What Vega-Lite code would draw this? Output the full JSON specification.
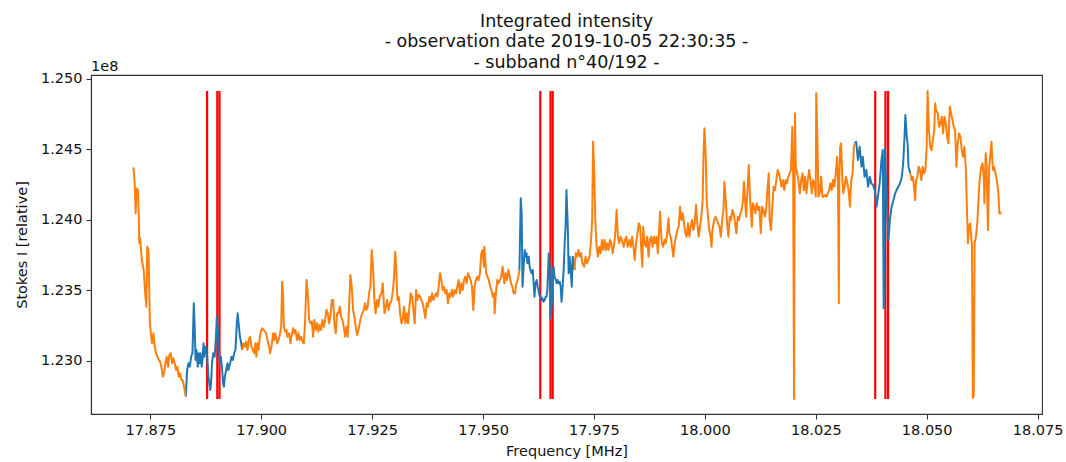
{
"$schema": "https://vega.github.io/schema/vega-lite/v6.json",
"width": 951, "height": 339,
"autosize": {"type": "none"},
"padding": {"left": 91, "top": 75, "right": 24, "bottom": 48},
"background": "white",
"config": {
  "font": "DejaVu Sans",
  "view": {"stroke": "#333", "strokeWidth": 1.1},
  "axis": {"domainColor": "#333", "tickColor": "#333", "labelColor": "#111", "titleColor": "#111", "labelFontSize": 14.5, "titleFontSize": 14.5, "titleFontWeight": "normal", "tickSize": 5, "labelPadding": 4, "grid": false, "domainWidth": 1.1, "tickWidth": 1.1, "labelFont": "DejaVu Sans", "titleFont": "DejaVu Sans"},
  "axisX": {"titlePadding": 8, "labelFlush": false},
  "axisY": {"titlePadding": 11}
},
"title": {"text": ["Integrated intensity", "- observation date 2019-10-05 22:30:35 -", "- subband n°40/192 -"], "fontSize": 17.5, "fontWeight": "normal", "lineHeight": 20.5, "anchor": "middle", "frame": "group", "offset": -12, "color": "#111", "font": "DejaVu Sans"},
"datasets": {
 "rfi": [
  {"f": 17.8878, "lo": 1.22731, "hi": 1.24915},
  {"f": 17.8901, "lo": 1.22731, "hi": 1.24915},
  {"f": 17.8906, "lo": 1.22731, "hi": 1.24915},
  {"f": 17.9629, "lo": 1.22731, "hi": 1.24915},
  {"f": 17.9652, "lo": 1.22731, "hi": 1.24915},
  {"f": 17.9657, "lo": 1.22731, "hi": 1.24915},
  {"f": 18.0384, "lo": 1.22731, "hi": 1.24915},
  {"f": 18.0407, "lo": 1.22731, "hi": 1.24915},
  {"f": 18.0413, "lo": 1.22731, "hi": 1.24915}
 ],
 "flagged": [
  {"f":17.8830,"I":1.22747,"s":"b1"},{"f":17.8833,"I":1.22936,"s":"b1"},{"f":17.8836,"I":1.22984,"s":"b1"},{"f":17.8839,"I":1.2296,"s":"b1"},{"f":17.8842,"I":1.2303,"s":"b1"},{"f":17.8845,"I":1.23055,"s":"b1"},{"f":17.8848,"I":1.23409,"s":"b1"},{"f":17.8850,"I":1.23243,"s":"b1"},{"f":17.8852,"I":1.23007,"s":"b1"},{"f":17.8854,"I":1.23078,"s":"b1"},{"f":17.8857,"I":1.2296,"s":"b1"},{"f":17.8859,"I":1.23055,"s":"b1"},{"f":17.8861,"I":1.22984,"s":"b1"},{"f":17.8863,"I":1.23055,"s":"b1"},{"f":17.8866,"I":1.2296,"s":"b1"},{"f":17.8868,"I":1.2303,"s":"b1"},{"f":17.8870,"I":1.23125,"s":"b1"},{"f":17.8872,"I":1.2303,"s":"b1"},{"f":17.8875,"I":1.23101,"s":"b1"},{"f":17.8877,"I":1.23078,"s":"b1"},{"f":17.8879,"I":1.22984,"s":"b1"},{"f":17.8881,"I":1.22889,"s":"b1"},{"f":17.8885,"I":1.22794,"s":"b1"},{"f":17.8887,"I":1.22842,"s":"b1"},{"f":17.8889,"I":1.22984,"s":"b1"},{"f":17.8892,"I":1.23055,"s":"b1"},{"f":17.8895,"I":1.2303,"s":"b1"},{"f":17.8898,"I":1.23172,"s":"b1"},{"f":17.8900,"I":1.23314,"s":"b1"},{"f":17.8903,"I":1.23172,"s":"b1"},{"f":17.8905,"I":1.23055,"s":"b1"},{"f":17.8907,"I":1.22984,"s":"b1"},{"f":17.8909,"I":1.2303,"s":"b1"},{"f":17.8912,"I":1.22936,"s":"b1"},{"f":17.8914,"I":1.22842,"s":"b1"},{"f":17.8916,"I":1.22818,"s":"b1"},{"f":17.8918,"I":1.22889,"s":"b1"},{"f":17.8921,"I":1.22936,"s":"b1"},{"f":17.8924,"I":1.22984,"s":"b1"},{"f":17.8926,"I":1.22936,"s":"b1"},{"f":17.8930,"I":1.22984,"s":"b1"},{"f":17.8933,"I":1.2303,"s":"b1"},{"f":17.8936,"I":1.23007,"s":"b1"},{"f":17.8939,"I":1.23055,"s":"b1"},{"f":17.8942,"I":1.23078,"s":"b1"},{"f":17.8945,"I":1.23267,"s":"b1"},{"f":17.8947,"I":1.23338,"s":"b1"},{"f":17.8949,"I":1.23267,"s":"b1"},{"f":17.8952,"I":1.23172,"s":"b1"},{"f":17.8955,"I":1.23125,"s":"b1"},{"f":17.8957,"I":1.23078,"s":"b1"},
  {"f":17.9582,"I":1.23645,"s":"b2"},{"f":17.9585,"I":1.24154,"s":"b2"},{"f":17.9587,"I":1.24047,"s":"b2"},{"f":17.9589,"I":1.23527,"s":"b2"},{"f":17.9591,"I":1.23645,"s":"b2"},{"f":17.9594,"I":1.23787,"s":"b2"},{"f":17.9596,"I":1.2374,"s":"b2"},{"f":17.9598,"I":1.23764,"s":"b2"},{"f":17.9600,"I":1.23693,"s":"b2"},{"f":17.9603,"I":1.2374,"s":"b2"},{"f":17.9605,"I":1.23669,"s":"b2"},{"f":17.9607,"I":1.23645,"s":"b2"},{"f":17.9609,"I":1.23622,"s":"b2"},{"f":17.9612,"I":1.23645,"s":"b2"},{"f":17.9614,"I":1.23551,"s":"b2"},{"f":17.9616,"I":1.23456,"s":"b2"},{"f":17.9618,"I":1.23551,"s":"b2"},{"f":17.9621,"I":1.23574,"s":"b2"},{"f":17.9623,"I":1.23527,"s":"b2"},{"f":17.9625,"I":1.23503,"s":"b2"},{"f":17.9627,"I":1.23468,"s":"b2"},{"f":17.9630,"I":1.23456,"s":"b2"},{"f":17.9632,"I":1.23432,"s":"b2"},{"f":17.9634,"I":1.23445,"s":"b2"},{"f":17.9636,"I":1.2342,"s":"b2"},{"f":17.9639,"I":1.23432,"s":"b2"},{"f":17.9641,"I":1.23456,"s":"b2"},{"f":17.9643,"I":1.23456,"s":"b2"},{"f":17.9645,"I":1.23503,"s":"b2"},{"f":17.9648,"I":1.23764,"s":"b2"},{"f":17.9650,"I":1.23693,"s":"b2"},{"f":17.9652,"I":1.23303,"s":"b2"},{"f":17.9655,"I":1.23409,"s":"b2"},{"f":17.9657,"I":1.23645,"s":"b2"},{"f":17.9659,"I":1.23669,"s":"b2"},{"f":17.9661,"I":1.23598,"s":"b2"},{"f":17.9664,"I":1.23574,"s":"b2"},{"f":17.9666,"I":1.23551,"s":"b2"},{"f":17.9668,"I":1.23574,"s":"b2"},{"f":17.9670,"I":1.23551,"s":"b2"},{"f":17.9673,"I":1.23562,"s":"b2"},{"f":17.9675,"I":1.23527,"s":"b2"},{"f":17.9677,"I":1.2342,"s":"b2"},{"f":17.9679,"I":1.23503,"s":"b2"},{"f":17.9682,"I":1.23669,"s":"b2"},{"f":17.9684,"I":1.23835,"s":"b2"},{"f":17.9686,"I":1.23952,"s":"b2"},{"f":17.9688,"I":1.24212,"s":"b2"},{"f":17.9691,"I":1.23952,"s":"b2"},{"f":17.9693,"I":1.23622,"s":"b2"},{"f":17.9695,"I":1.2374,"s":"b2"},{"f":17.9697,"I":1.23669,"s":"b2"},{"f":17.9700,"I":1.23527,"s":"b2"},{"f":17.9702,"I":1.2374,"s":"b2"},{"f":17.9704,"I":1.23716,"s":"b2"},{"f":17.9706,"I":1.23645,"s":"b2"},
  {"f":18.0338,"I":1.24543,"s":"b3"},{"f":18.0341,"I":1.24555,"s":"b3"},{"f":18.0345,"I":1.24425,"s":"b3"},{"f":18.0349,"I":1.24519,"s":"b3"},{"f":18.0353,"I":1.24378,"s":"b3"},{"f":18.0356,"I":1.24448,"s":"b3"},{"f":18.0360,"I":1.24307,"s":"b3"},{"f":18.0364,"I":1.24354,"s":"b3"},{"f":18.0368,"I":1.24236,"s":"b3"},{"f":18.0372,"I":1.24307,"s":"b3"},{"f":18.0375,"I":1.2426,"s":"b3"},{"f":18.0379,"I":1.24248,"s":"b3"},{"f":18.0383,"I":1.24212,"s":"b3"},{"f":18.0387,"I":1.24094,"s":"b3"},{"f":18.0391,"I":1.24189,"s":"b3"},{"f":18.0394,"I":1.2426,"s":"b3"},{"f":18.0398,"I":1.24425,"s":"b3"},{"f":18.0401,"I":1.24496,"s":"b3"},{"f":18.0403,"I":1.23374,"s":"b3"},{"f":18.0406,"I":1.24508,"s":"b3"},{"f":18.0408,"I":1.24307,"s":"b3"},{"f":18.0411,"I":1.24047,"s":"b3"},{"f":18.0414,"I":1.23858,"s":"b3"},{"f":18.0417,"I":1.2400,"s":"b3"},{"f":18.0421,"I":1.24094,"s":"b3"},{"f":18.0425,"I":1.24141,"s":"b3"},{"f":18.0429,"I":1.24189,"s":"b3"},{"f":18.0432,"I":1.24212,"s":"b3"},{"f":18.0436,"I":1.24236,"s":"b3"},{"f":18.0440,"I":1.2426,"s":"b3"},{"f":18.0444,"I":1.24307,"s":"b3"},{"f":18.0447,"I":1.24402,"s":"b3"},{"f":18.0450,"I":1.2459,"s":"b3"},{"f":18.0452,"I":1.24744,"s":"b3"},{"f":18.0455,"I":1.2459,"s":"b3"},{"f":18.0457,"I":1.24543,"s":"b3"},{"f":18.0459,"I":1.24378,"s":"b3"},{"f":18.0463,"I":1.24331,"s":"b3"}
 ],
 "kept": [
  {"f":17.8712,"I":1.24373,"s":"o1"},{"f":17.8715,"I":1.24248,"s":"o1"},{"f":17.8717,"I":1.24047,"s":"o1"},{"f":17.8719,"I":1.24224,"s":"o1"},{"f":17.8722,"I":1.24212,"s":"o1"},{"f":17.8724,"I":1.24023,"s":"o1"},{"f":17.8725,"I":1.23835,"s":"o1"},{"f":17.8727,"I":1.2387,"s":"o1"},{"f":17.8729,"I":1.23787,"s":"o1"},{"f":17.8731,"I":1.23716,"s":"o1"},{"f":17.8735,"I":1.23645,"s":"o1"},{"f":17.8739,"I":1.23456,"s":"o1"},{"f":17.8741,"I":1.23385,"s":"o1"},{"f":17.8743,"I":1.2381,"s":"o1"},{"f":17.8746,"I":1.23787,"s":"o1"},{"f":17.8748,"I":1.23432,"s":"o1"},{"f":17.8749,"I":1.23267,"s":"o1"},{"f":17.8752,"I":1.23172,"s":"o1"},{"f":17.8754,"I":1.23125,"s":"o1"},{"f":17.8757,"I":1.23196,"s":"o1"},{"f":17.8760,"I":1.23101,"s":"o1"},{"f":17.8763,"I":1.23055,"s":"o1"},{"f":17.8766,"I":1.2303,"s":"o1"},{"f":17.8769,"I":1.23007,"s":"o1"},{"f":17.8772,"I":1.22995,"s":"o1"},{"f":17.8775,"I":1.2296,"s":"o1"},{"f":17.8778,"I":1.22889,"s":"o1"},{"f":17.8781,"I":1.22913,"s":"o1"},{"f":17.8784,"I":1.22984,"s":"o1"},{"f":17.8787,"I":1.2303,"s":"o1"},{"f":17.8790,"I":1.2296,"s":"o1"},{"f":17.8793,"I":1.23043,"s":"o1"},{"f":17.8796,"I":1.23055,"s":"o1"},{"f":17.8799,"I":1.22984,"s":"o1"},{"f":17.8802,"I":1.23019,"s":"o1"},{"f":17.8805,"I":1.22984,"s":"o1"},{"f":17.8808,"I":1.22936,"s":"o1"},{"f":17.8811,"I":1.2296,"s":"o1"},{"f":17.8814,"I":1.22889,"s":"o1"},{"f":17.8817,"I":1.22913,"s":"o1"},{"f":17.8820,"I":1.22865,"s":"o1"},{"f":17.8823,"I":1.22865,"s":"o1"},{"f":17.8826,"I":1.22818,"s":"o1"},{"f":17.8830,"I":1.22747,"s":"o1"},
  {"f":17.8957,"I":1.23078,"s":"o2"},{"f":17.8960,"I":1.23125,"s":"o2"},{"f":17.8963,"I":1.23101,"s":"o2"},{"f":17.8966,"I":1.23137,"s":"o2"},{"f":17.8969,"I":1.23078,"s":"o2"},{"f":17.8972,"I":1.23149,"s":"o2"},{"f":17.8975,"I":1.23172,"s":"o2"},{"f":17.8978,"I":1.23101,"s":"o2"},{"f":17.8981,"I":1.23078,"s":"o2"},{"f":17.8984,"I":1.23055,"s":"o2"},{"f":17.8987,"I":1.23125,"s":"o2"},{"f":17.8989,"I":1.2303,"s":"o2"},{"f":17.8992,"I":1.23125,"s":"o2"},{"f":17.8994,"I":1.23078,"s":"o2"},{"f":17.8996,"I":1.23149,"s":"o2"},{"f":17.8999,"I":1.23208,"s":"o2"},{"f":17.9002,"I":1.23232,"s":"o2"},{"f":17.9005,"I":1.2322,"s":"o2"},{"f":17.9009,"I":1.23208,"s":"o2"},{"f":17.9011,"I":1.23196,"s":"o2"},{"f":17.9014,"I":1.23149,"s":"o2"},{"f":17.9018,"I":1.23101,"s":"o2"},{"f":17.9020,"I":1.23055,"s":"o2"},{"f":17.9023,"I":1.23101,"s":"o2"},{"f":17.9027,"I":1.23196,"s":"o2"},{"f":17.9029,"I":1.23149,"s":"o2"},{"f":17.9032,"I":1.23196,"s":"o2"},{"f":17.9036,"I":1.23125,"s":"o2"},{"f":17.9039,"I":1.23149,"s":"o2"},{"f":17.9041,"I":1.23172,"s":"o2"},{"f":17.9045,"I":1.23243,"s":"o2"},{"f":17.9047,"I":1.23562,"s":"o2"},{"f":17.9049,"I":1.2348,"s":"o2"},{"f":17.9051,"I":1.23243,"s":"o2"},{"f":17.9054,"I":1.23208,"s":"o2"},{"f":17.9057,"I":1.2322,"s":"o2"},{"f":17.9059,"I":1.23172,"s":"o2"},{"f":17.9063,"I":1.23196,"s":"o2"},{"f":17.9066,"I":1.23125,"s":"o2"},{"f":17.9068,"I":1.23172,"s":"o2"},{"f":17.9072,"I":1.23232,"s":"o2"},{"f":17.9075,"I":1.23196,"s":"o2"},{"f":17.9077,"I":1.2322,"s":"o2"},{"f":17.9081,"I":1.23149,"s":"o2"},{"f":17.9084,"I":1.23196,"s":"o2"},{"f":17.9087,"I":1.23149,"s":"o2"},{"f":17.9090,"I":1.23172,"s":"o2"},{"f":17.9093,"I":1.23137,"s":"o2"},{"f":17.9096,"I":1.23125,"s":"o2"},{"f":17.9099,"I":1.23291,"s":"o2"},{"f":17.9102,"I":1.23574,"s":"o2"},{"f":17.9105,"I":1.2348,"s":"o2"},{"f":17.9108,"I":1.23291,"s":"o2"},{"f":17.9111,"I":1.23267,"s":"o2"},{"f":17.9114,"I":1.23279,"s":"o2"},{"f":17.9117,"I":1.23172,"s":"o2"},{"f":17.9120,"I":1.23291,"s":"o2"},{"f":17.9123,"I":1.2322,"s":"o2"},{"f":17.9126,"I":1.23267,"s":"o2"},{"f":17.9129,"I":1.23208,"s":"o2"},{"f":17.9132,"I":1.23255,"s":"o2"},{"f":17.9135,"I":1.2322,"s":"o2"},{"f":17.9138,"I":1.23291,"s":"o2"},{"f":17.9141,"I":1.23243,"s":"o2"},{"f":17.9144,"I":1.23291,"s":"o2"},{"f":17.9147,"I":1.23362,"s":"o2"},{"f":17.9150,"I":1.23338,"s":"o2"},{"f":17.9153,"I":1.23267,"s":"o2"},{"f":17.9156,"I":1.23314,"s":"o2"},{"f":17.9159,"I":1.23432,"s":"o2"},{"f":17.9162,"I":1.23432,"s":"o2"},{"f":17.9165,"I":1.23267,"s":"o2"},{"f":17.9168,"I":1.23196,"s":"o2"},{"f":17.9171,"I":1.23338,"s":"o2"},{"f":17.9174,"I":1.23338,"s":"o2"},{"f":17.9177,"I":1.23385,"s":"o2"},{"f":17.9180,"I":1.23314,"s":"o2"},{"f":17.9183,"I":1.23291,"s":"o2"},{"f":17.9186,"I":1.23243,"s":"o2"},{"f":17.9189,"I":1.23172,"s":"o2"},{"f":17.9192,"I":1.23243,"s":"o2"},{"f":17.9195,"I":1.23172,"s":"o2"},{"f":17.9198,"I":1.23385,"s":"o2"},{"f":17.9201,"I":1.2361,"s":"o2"},{"f":17.9204,"I":1.23527,"s":"o2"},{"f":17.9207,"I":1.23362,"s":"o2"},{"f":17.9210,"I":1.23314,"s":"o2"},{"f":17.9213,"I":1.23243,"s":"o2"},{"f":17.9216,"I":1.23184,"s":"o2"},{"f":17.9219,"I":1.2322,"s":"o2"},{"f":17.9222,"I":1.23267,"s":"o2"},{"f":17.9225,"I":1.23314,"s":"o2"},{"f":17.9228,"I":1.23338,"s":"o2"},{"f":17.9231,"I":1.23362,"s":"o2"},{"f":17.9234,"I":1.23409,"s":"o2"},{"f":17.9237,"I":1.23362,"s":"o2"},{"f":17.9240,"I":1.23385,"s":"o2"},{"f":17.9243,"I":1.2348,"s":"o2"},{"f":17.9246,"I":1.23527,"s":"o2"},{"f":17.9249,"I":1.23787,"s":"o2"},{"f":17.9252,"I":1.23669,"s":"o2"},{"f":17.9255,"I":1.23432,"s":"o2"},{"f":17.9258,"I":1.23338,"s":"o2"},{"f":17.9261,"I":1.23432,"s":"o2"},{"f":17.9264,"I":1.23385,"s":"o2"},{"f":17.9267,"I":1.23456,"s":"o2"},{"f":17.9271,"I":1.2348,"s":"o2"},{"f":17.9274,"I":1.23551,"s":"o2"},{"f":17.9276,"I":1.23432,"s":"o2"},{"f":17.9278,"I":1.23338,"s":"o2"},{"f":17.9281,"I":1.23385,"s":"o2"},{"f":17.9284,"I":1.23432,"s":"o2"},{"f":17.9287,"I":1.23362,"s":"o2"},{"f":17.9290,"I":1.23409,"s":"o2"},{"f":17.9293,"I":1.2342,"s":"o2"},{"f":17.9296,"I":1.2348,"s":"o2"},{"f":17.9299,"I":1.23574,"s":"o2"},{"f":17.9302,"I":1.23775,"s":"o2"},{"f":17.9304,"I":1.23669,"s":"o2"},{"f":17.9307,"I":1.23432,"s":"o2"},{"f":17.9310,"I":1.23456,"s":"o2"},{"f":17.9313,"I":1.23338,"s":"o2"},{"f":17.9316,"I":1.23267,"s":"o2"},{"f":17.9319,"I":1.23291,"s":"o2"},{"f":17.9322,"I":1.23385,"s":"o2"},{"f":17.9325,"I":1.23267,"s":"o2"},{"f":17.9328,"I":1.23338,"s":"o2"},{"f":17.9331,"I":1.23267,"s":"o2"},{"f":17.9334,"I":1.23385,"s":"o2"},{"f":17.9337,"I":1.2348,"s":"o2"},{"f":17.9340,"I":1.23456,"s":"o2"},{"f":17.9343,"I":1.23362,"s":"o2"},{"f":17.9346,"I":1.23267,"s":"o2"},{"f":17.9349,"I":1.23503,"s":"o2"},{"f":17.9352,"I":1.23432,"s":"o2"},{"f":17.9355,"I":1.23468,"s":"o2"},{"f":17.9358,"I":1.23456,"s":"o2"},{"f":17.9361,"I":1.23432,"s":"o2"},{"f":17.9364,"I":1.23409,"s":"o2"},{"f":17.9367,"I":1.23362,"s":"o2"},{"f":17.9370,"I":1.23303,"s":"o2"},{"f":17.9373,"I":1.23409,"s":"o2"},{"f":17.9376,"I":1.23385,"s":"o2"},{"f":17.9379,"I":1.23456,"s":"o2"},{"f":17.9382,"I":1.2342,"s":"o2"},{"f":17.9385,"I":1.2348,"s":"o2"},{"f":17.9388,"I":1.23432,"s":"o2"},{"f":17.9391,"I":1.23456,"s":"o2"},{"f":17.9394,"I":1.2348,"s":"o2"},{"f":17.9397,"I":1.23456,"s":"o2"},{"f":17.9400,"I":1.23527,"s":"o2"},{"f":17.9403,"I":1.23622,"s":"o2"},{"f":17.9406,"I":1.23574,"s":"o2"},{"f":17.9409,"I":1.23503,"s":"o2"},{"f":17.9412,"I":1.23527,"s":"o2"},{"f":17.9415,"I":1.2348,"s":"o2"},{"f":17.9418,"I":1.23503,"s":"o2"},{"f":17.9421,"I":1.23409,"s":"o2"},{"f":17.9424,"I":1.2348,"s":"o2"},{"f":17.9427,"I":1.23456,"s":"o2"},{"f":17.9430,"I":1.23503,"s":"o2"},{"f":17.9433,"I":1.23456,"s":"o2"},{"f":17.9436,"I":1.23503,"s":"o2"},{"f":17.9439,"I":1.2348,"s":"o2"},{"f":17.9442,"I":1.23527,"s":"o2"},{"f":17.9445,"I":1.23574,"s":"o2"},{"f":17.9448,"I":1.2348,"s":"o2"},{"f":17.9451,"I":1.23551,"s":"o2"},{"f":17.9454,"I":1.23503,"s":"o2"},{"f":17.9457,"I":1.23574,"s":"o2"},{"f":17.9460,"I":1.23598,"s":"o2"},{"f":17.9463,"I":1.23551,"s":"o2"},{"f":17.9466,"I":1.23622,"s":"o2"},{"f":17.9469,"I":1.23598,"s":"o2"},{"f":17.9472,"I":1.23574,"s":"o2"},{"f":17.9475,"I":1.23527,"s":"o2"},{"f":17.9478,"I":1.23362,"s":"o2"},{"f":17.9481,"I":1.23527,"s":"o2"},{"f":17.9484,"I":1.23574,"s":"o2"},{"f":17.9487,"I":1.23598,"s":"o2"},{"f":17.9490,"I":1.23574,"s":"o2"},{"f":17.9493,"I":1.23622,"s":"o2"},{"f":17.9496,"I":1.23764,"s":"o2"},{"f":17.9499,"I":1.23787,"s":"o2"},{"f":17.9502,"I":1.23669,"s":"o2"},{"f":17.9503,"I":1.2381,"s":"o2"},{"f":17.9507,"I":1.23622,"s":"o2"},{"f":17.9510,"I":1.23598,"s":"o2"},{"f":17.9513,"I":1.23574,"s":"o2"},{"f":17.9516,"I":1.23527,"s":"o2"},{"f":17.9519,"I":1.23503,"s":"o2"},{"f":17.9522,"I":1.23456,"s":"o2"},{"f":17.9525,"I":1.2348,"s":"o2"},{"f":17.9526,"I":1.23338,"s":"o2"},{"f":17.9529,"I":1.2348,"s":"o2"},{"f":17.9532,"I":1.23574,"s":"o2"},{"f":17.9535,"I":1.23551,"s":"o2"},{"f":17.9538,"I":1.23574,"s":"o2"},{"f":17.9541,"I":1.23598,"s":"o2"},{"f":17.9544,"I":1.23669,"s":"o2"},{"f":17.9548,"I":1.23551,"s":"o2"},{"f":17.9551,"I":1.23622,"s":"o2"},{"f":17.9554,"I":1.23574,"s":"o2"},{"f":17.9557,"I":1.23645,"s":"o2"},{"f":17.9560,"I":1.23598,"s":"o2"},{"f":17.9563,"I":1.23551,"s":"o2"},{"f":17.9566,"I":1.23527,"s":"o2"},{"f":17.9569,"I":1.2348,"s":"o2"},{"f":17.9572,"I":1.2348,"s":"o2"},{"f":17.9575,"I":1.23551,"s":"o2"},{"f":17.9578,"I":1.23574,"s":"o2"},{"f":17.9581,"I":1.23622,"s":"o2"},{"f":17.9582,"I":1.23645,"s":"o2"},
  {"f":17.9706,"I":1.23645,"s":"o3"},{"f":17.9709,"I":1.23764,"s":"o3"},{"f":17.9712,"I":1.2374,"s":"o3"},{"f":17.9715,"I":1.23787,"s":"o3"},{"f":17.9718,"I":1.2374,"s":"o3"},{"f":17.9721,"I":1.23764,"s":"o3"},{"f":17.9724,"I":1.23693,"s":"o3"},{"f":17.9728,"I":1.23669,"s":"o3"},{"f":17.9731,"I":1.2374,"s":"o3"},{"f":17.9734,"I":1.23693,"s":"o3"},{"f":17.9737,"I":1.23716,"s":"o3"},{"f":17.9740,"I":1.2374,"s":"o3"},{"f":17.9743,"I":1.23835,"s":"o3"},{"f":17.9746,"I":1.2400,"s":"o3"},{"f":17.9748,"I":1.24555,"s":"o3"},{"f":17.9751,"I":1.24307,"s":"o3"},{"f":17.9753,"I":1.2400,"s":"o3"},{"f":17.9756,"I":1.2381,"s":"o3"},{"f":17.9759,"I":1.2374,"s":"o3"},{"f":17.9762,"I":1.2381,"s":"o3"},{"f":17.9765,"I":1.23764,"s":"o3"},{"f":17.9768,"I":1.23858,"s":"o3"},{"f":17.9771,"I":1.23787,"s":"o3"},{"f":17.9774,"I":1.23858,"s":"o3"},{"f":17.9777,"I":1.23787,"s":"o3"},{"f":17.9780,"I":1.23835,"s":"o3"},{"f":17.9783,"I":1.23787,"s":"o3"},{"f":17.9786,"I":1.23858,"s":"o3"},{"f":17.9789,"I":1.23835,"s":"o3"},{"f":17.9792,"I":1.23764,"s":"o3"},{"f":17.9795,"I":1.2381,"s":"o3"},{"f":17.9798,"I":1.23905,"s":"o3"},{"f":17.9801,"I":1.24071,"s":"o3"},{"f":17.9804,"I":1.23881,"s":"o3"},{"f":17.9807,"I":1.23835,"s":"o3"},{"f":17.9810,"I":1.23881,"s":"o3"},{"f":17.9813,"I":1.23858,"s":"o3"},{"f":17.9817,"I":1.2381,"s":"o3"},{"f":17.9820,"I":1.23858,"s":"o3"},{"f":17.9823,"I":1.23881,"s":"o3"},{"f":17.9826,"I":1.2381,"s":"o3"},{"f":17.9830,"I":1.23858,"s":"o3"},{"f":17.9833,"I":1.2381,"s":"o3"},{"f":17.9836,"I":1.23881,"s":"o3"},{"f":17.9839,"I":1.2381,"s":"o3"},{"f":17.9842,"I":1.23716,"s":"o3"},{"f":17.9845,"I":1.23835,"s":"o3"},{"f":17.9848,"I":1.23905,"s":"o3"},{"f":17.9851,"I":1.23976,"s":"o3"},{"f":17.9854,"I":1.23952,"s":"o3"},{"f":17.9857,"I":1.23764,"s":"o3"},{"f":17.9859,"I":1.23669,"s":"o3"},{"f":17.9861,"I":1.23952,"s":"o3"},{"f":17.9864,"I":1.23835,"s":"o3"},{"f":17.9867,"I":1.2381,"s":"o3"},{"f":17.9870,"I":1.23881,"s":"o3"},{"f":17.9873,"I":1.2374,"s":"o3"},{"f":17.9876,"I":1.23858,"s":"o3"},{"f":17.9879,"I":1.23881,"s":"o3"},{"f":17.9882,"I":1.2381,"s":"o3"},{"f":17.9885,"I":1.23881,"s":"o3"},{"f":17.9888,"I":1.23835,"s":"o3"},{"f":17.9891,"I":1.23881,"s":"o3"},{"f":17.9894,"I":1.23764,"s":"o3"},{"f":17.9897,"I":1.23929,"s":"o3"},{"f":17.9899,"I":1.24059,"s":"o3"},{"f":17.9901,"I":1.23929,"s":"o3"},{"f":17.9903,"I":1.23835,"s":"o3"},{"f":17.9906,"I":1.2381,"s":"o3"},{"f":17.9909,"I":1.23858,"s":"o3"},{"f":17.9912,"I":1.23835,"s":"o3"},{"f":17.9915,"I":1.23905,"s":"o3"},{"f":17.9918,"I":1.24012,"s":"o3"},{"f":17.9920,"I":1.23905,"s":"o3"},{"f":17.9923,"I":1.23881,"s":"o3"},{"f":17.9926,"I":1.2381,"s":"o3"},{"f":17.9929,"I":1.2374,"s":"o3"},{"f":17.9932,"I":1.23835,"s":"o3"},{"f":17.9935,"I":1.23881,"s":"o3"},{"f":17.9938,"I":1.23929,"s":"o3"},{"f":17.9941,"I":1.23952,"s":"o3"},{"f":17.9944,"I":1.24094,"s":"o3"},{"f":17.9947,"I":1.2400,"s":"o3"},{"f":17.9950,"I":1.24047,"s":"o3"},{"f":17.9953,"I":1.23976,"s":"o3"},{"f":17.9956,"I":1.23905,"s":"o3"},{"f":17.9959,"I":1.23881,"s":"o3"},{"f":17.9962,"I":1.23976,"s":"o3"},{"f":17.9965,"I":1.23881,"s":"o3"},{"f":17.9968,"I":1.23952,"s":"o3"},{"f":17.9971,"I":1.2400,"s":"o3"},{"f":17.9974,"I":1.23929,"s":"o3"},{"f":17.9977,"I":1.23976,"s":"o3"},{"f":17.9980,"I":1.24106,"s":"o3"},{"f":17.9983,"I":1.23976,"s":"o3"},{"f":17.9986,"I":1.23881,"s":"o3"},{"f":17.9989,"I":1.23952,"s":"o3"},{"f":17.9992,"I":1.24023,"s":"o3"},{"f":17.9995,"I":1.24141,"s":"o3"},{"f":17.9997,"I":1.24473,"s":"o3"},{"f":17.9999,"I":1.2465,"s":"o3"},{"f":18.0002,"I":1.24448,"s":"o3"},{"f":18.0004,"I":1.24141,"s":"o3"},{"f":18.0007,"I":1.24023,"s":"o3"},{"f":18.0010,"I":1.23929,"s":"o3"},{"f":18.0013,"I":1.23881,"s":"o3"},{"f":18.0015,"I":1.2381,"s":"o3"},{"f":18.0017,"I":1.23929,"s":"o3"},{"f":18.0021,"I":1.2400,"s":"o3"},{"f":18.0024,"I":1.24023,"s":"o3"},{"f":18.0027,"I":1.2400,"s":"o3"},{"f":18.0030,"I":1.23976,"s":"o3"},{"f":18.0033,"I":1.23952,"s":"o3"},{"f":18.0036,"I":1.23881,"s":"o3"},{"f":18.0039,"I":1.2400,"s":"o3"},{"f":18.0042,"I":1.24071,"s":"o3"},{"f":18.0044,"I":1.24271,"s":"o3"},{"f":18.0047,"I":1.24141,"s":"o3"},{"f":18.0050,"I":1.23976,"s":"o3"},{"f":18.0053,"I":1.23881,"s":"o3"},{"f":18.0056,"I":1.24023,"s":"o3"},{"f":18.0059,"I":1.2400,"s":"o3"},{"f":18.0062,"I":1.24071,"s":"o3"},{"f":18.0065,"I":1.24047,"s":"o3"},{"f":18.0068,"I":1.23976,"s":"o3"},{"f":18.0071,"I":1.23905,"s":"o3"},{"f":18.0074,"I":1.24023,"s":"o3"},{"f":18.0077,"I":1.2400,"s":"o3"},{"f":18.0080,"I":1.24047,"s":"o3"},{"f":18.0083,"I":1.24071,"s":"o3"},{"f":18.0086,"I":1.24141,"s":"o3"},{"f":18.0088,"I":1.24271,"s":"o3"},{"f":18.0090,"I":1.24165,"s":"o3"},{"f":18.0093,"I":1.24023,"s":"o3"},{"f":18.0096,"I":1.24212,"s":"o3"},{"f":18.0099,"I":1.2439,"s":"o3"},{"f":18.0102,"I":1.24141,"s":"o3"},{"f":18.0106,"I":1.23952,"s":"o3"},{"f":18.0108,"I":1.24118,"s":"o3"},{"f":18.0111,"I":1.24094,"s":"o3"},{"f":18.0114,"I":1.24047,"s":"o3"},{"f":18.0117,"I":1.24118,"s":"o3"},{"f":18.0120,"I":1.24071,"s":"o3"},{"f":18.0123,"I":1.24094,"s":"o3"},{"f":18.0126,"I":1.23905,"s":"o3"},{"f":18.0129,"I":1.24094,"s":"o3"},{"f":18.0132,"I":1.24071,"s":"o3"},{"f":18.0135,"I":1.24023,"s":"o3"},{"f":18.0138,"I":1.24071,"s":"o3"},{"f":18.0141,"I":1.24212,"s":"o3"},{"f":18.0144,"I":1.24331,"s":"o3"},{"f":18.0146,"I":1.2400,"s":"o3"},{"f":18.0149,"I":1.23929,"s":"o3"},{"f":18.0152,"I":1.24094,"s":"o3"},{"f":18.0155,"I":1.24236,"s":"o3"},{"f":18.0158,"I":1.24212,"s":"o3"},{"f":18.0161,"I":1.24283,"s":"o3"},{"f":18.0164,"I":1.24354,"s":"o3"},{"f":18.0167,"I":1.24331,"s":"o3"},{"f":18.0170,"I":1.24283,"s":"o3"},{"f":18.0173,"I":1.24236,"s":"o3"},{"f":18.0176,"I":1.24283,"s":"o3"},{"f":18.0179,"I":1.24212,"s":"o3"},{"f":18.0182,"I":1.24283,"s":"o3"},{"f":18.0185,"I":1.2426,"s":"o3"},{"f":18.0188,"I":1.24307,"s":"o3"},{"f":18.0191,"I":1.24331,"s":"o3"},{"f":18.0194,"I":1.24354,"s":"o3"},{"f":18.0197,"I":1.24661,"s":"o3"},{"f":18.0199,"I":1.24331,"s":"o3"},{"f":18.0201,"I":1.22731,"s":"o3"},{"f":18.0203,"I":1.24756,"s":"o3"},{"f":18.0205,"I":1.24378,"s":"o3"},{"f":18.0208,"I":1.24331,"s":"o3"},{"f":18.0211,"I":1.24283,"s":"o3"},{"f":18.0214,"I":1.24189,"s":"o3"},{"f":18.0217,"I":1.24283,"s":"o3"},{"f":18.0220,"I":1.24331,"s":"o3"},{"f":18.0223,"I":1.24212,"s":"o3"},{"f":18.0226,"I":1.24307,"s":"o3"},{"f":18.0229,"I":1.24189,"s":"o3"},{"f":18.0232,"I":1.24283,"s":"o3"},{"f":18.0235,"I":1.24354,"s":"o3"},{"f":18.0238,"I":1.24283,"s":"o3"},{"f":18.0241,"I":1.24189,"s":"o3"},{"f":18.0244,"I":1.24283,"s":"o3"},{"f":18.0247,"I":1.2426,"s":"o3"},{"f":18.0250,"I":1.24165,"s":"o3"},{"f":18.0251,"I":1.24898,"s":"o3"},{"f":18.0254,"I":1.24519,"s":"o3"},{"f":18.0256,"I":1.24165,"s":"o3"},{"f":18.0259,"I":1.24189,"s":"o3"},{"f":18.0262,"I":1.24307,"s":"o3"},{"f":18.0265,"I":1.24165,"s":"o3"},{"f":18.0268,"I":1.24165,"s":"o3"},{"f":18.0271,"I":1.24177,"s":"o3"},{"f":18.0274,"I":1.24165,"s":"o3"},{"f":18.0277,"I":1.24189,"s":"o3"},{"f":18.0280,"I":1.24212,"s":"o3"},{"f":18.0283,"I":1.2426,"s":"o3"},{"f":18.0286,"I":1.24212,"s":"o3"},{"f":18.0289,"I":1.24283,"s":"o3"},{"f":18.0292,"I":1.24236,"s":"o3"},{"f":18.0295,"I":1.24331,"s":"o3"},{"f":18.0298,"I":1.24448,"s":"o3"},{"f":18.0300,"I":1.24283,"s":"o3"},{"f":18.0302,"I":1.23409,"s":"o3"},{"f":18.0303,"I":1.24283,"s":"o3"},{"f":18.0305,"I":1.24519,"s":"o3"},{"f":18.0307,"I":1.24543,"s":"o3"},{"f":18.0310,"I":1.24283,"s":"o3"},{"f":18.0312,"I":1.24189,"s":"o3"},{"f":18.0315,"I":1.24236,"s":"o3"},{"f":18.0318,"I":1.24307,"s":"o3"},{"f":18.0321,"I":1.2426,"s":"o3"},{"f":18.0324,"I":1.24212,"s":"o3"},{"f":18.0327,"I":1.24094,"s":"o3"},{"f":18.0330,"I":1.24283,"s":"o3"},{"f":18.0333,"I":1.24331,"s":"o3"},{"f":18.0336,"I":1.24519,"s":"o3"},{"f":18.0338,"I":1.24543,"s":"o3"},
  {"f":18.0463,"I":1.24331,"s":"o4"},{"f":18.0466,"I":1.24283,"s":"o4"},{"f":18.0469,"I":1.24307,"s":"o4"},{"f":18.0472,"I":1.24212,"s":"o4"},{"f":18.0474,"I":1.24141,"s":"o4"},{"f":18.0476,"I":1.24283,"s":"o4"},{"f":18.0479,"I":1.24307,"s":"o4"},{"f":18.0482,"I":1.24378,"s":"o4"},{"f":18.0485,"I":1.24354,"s":"o4"},{"f":18.0488,"I":1.24283,"s":"o4"},{"f":18.0491,"I":1.24378,"s":"o4"},{"f":18.0494,"I":1.24331,"s":"o4"},{"f":18.0497,"I":1.24354,"s":"o4"},{"f":18.0500,"I":1.24519,"s":"o4"},{"f":18.0502,"I":1.24915,"s":"o4"},{"f":18.0505,"I":1.24638,"s":"o4"},{"f":18.0508,"I":1.24519,"s":"o4"},{"f":18.0511,"I":1.24496,"s":"o4"},{"f":18.0514,"I":1.24567,"s":"o4"},{"f":18.0517,"I":1.24638,"s":"o4"},{"f":18.0519,"I":1.24827,"s":"o4"},{"f":18.0521,"I":1.2478,"s":"o4"},{"f":18.0525,"I":1.24756,"s":"o4"},{"f":18.0528,"I":1.24661,"s":"o4"},{"f":18.0531,"I":1.24685,"s":"o4"},{"f":18.0534,"I":1.24732,"s":"o4"},{"f":18.0537,"I":1.24614,"s":"o4"},{"f":18.0540,"I":1.24732,"s":"o4"},{"f":18.0543,"I":1.24685,"s":"o4"},{"f":18.0546,"I":1.2459,"s":"o4"},{"f":18.0549,"I":1.24543,"s":"o4"},{"f":18.0552,"I":1.24803,"s":"o4"},{"f":18.0555,"I":1.24756,"s":"o4"},{"f":18.0558,"I":1.24709,"s":"o4"},{"f":18.0561,"I":1.24661,"s":"o4"},{"f":18.0564,"I":1.24638,"s":"o4"},{"f":18.0567,"I":1.24378,"s":"o4"},{"f":18.0570,"I":1.24543,"s":"o4"},{"f":18.0573,"I":1.24614,"s":"o4"},{"f":18.0576,"I":1.2459,"s":"o4"},{"f":18.0579,"I":1.24496,"s":"o4"},{"f":18.0582,"I":1.24448,"s":"o4"},{"f":18.0585,"I":1.24519,"s":"o4"},{"f":18.0588,"I":1.24378,"s":"o4"},{"f":18.0591,"I":1.24047,"s":"o4"},{"f":18.0593,"I":1.23835,"s":"o4"},{"f":18.0595,"I":1.23952,"s":"o4"},{"f":18.0598,"I":1.23976,"s":"o4"},{"f":18.0602,"I":1.23822,"s":"o4"},{"f":18.0604,"I":1.22738,"s":"o4"},{"f":18.0606,"I":1.22752,"s":"o4"},{"f":18.0608,"I":1.23835,"s":"o4"},{"f":18.0611,"I":1.23881,"s":"o4"},{"f":18.0614,"I":1.23976,"s":"o4"},{"f":18.0617,"I":1.24165,"s":"o4"},{"f":18.0620,"I":1.24307,"s":"o4"},{"f":18.0623,"I":1.24378,"s":"o4"},{"f":18.0626,"I":1.24402,"s":"o4"},{"f":18.0629,"I":1.24283,"s":"o4"},{"f":18.0630,"I":1.24118,"s":"o4"},{"f":18.0633,"I":1.24473,"s":"o4"},{"f":18.0635,"I":1.24402,"s":"o4"},{"f":18.0638,"I":1.23929,"s":"o4"},{"f":18.0641,"I":1.24378,"s":"o4"},{"f":18.0643,"I":1.24448,"s":"o4"},{"f":18.0646,"I":1.24555,"s":"o4"},{"f":18.0649,"I":1.24354,"s":"o4"},{"f":18.0652,"I":1.24378,"s":"o4"},{"f":18.0655,"I":1.24331,"s":"o4"},{"f":18.0658,"I":1.24283,"s":"o4"},{"f":18.0661,"I":1.24212,"s":"o4"},{"f":18.0664,"I":1.24047,"s":"o4"},{"f":18.0669,"I":1.24047,"s":"o4"}
 ],
 "exponent": [{"f": 17.86163, "I": 1.25028, "t": "1e8"}]
},
"layer": [
 {
  "data": {"name": "rfi"},
  "mark": {"type": "rule", "color": "#ff0000", "strokeWidth": 2.2},
  "encoding": {
   "x": {"field": "f", "type": "quantitative", "scale": {"domain": [17.86163, 18.07599], "nice": false, "zero": false}, "axis": {"values": [17.875, 17.9, 17.925, 17.95, 17.975, 18.0, 18.025, 18.05, 18.075], "format": ".3f", "title": "Frequency [MHz]"}},
   "y": {"field": "lo", "type": "quantitative", "scale": {"domain": [1.22624, 1.25028], "nice": false, "zero": false}, "axis": {"values": [1.23, 1.235, 1.24, 1.245, 1.25], "format": ".3f", "title": "Stokes I [relative]"}},
   "y2": {"field": "hi"}
  }
 },
 {
  "data": {"name": "flagged"},
  "mark": {"type": "line", "color": "#1f77b4", "strokeWidth": 2, "strokeJoin": "round", "strokeCap": "butt"},
  "encoding": {
   "x": {"field": "f", "type": "quantitative", "scale": {"domain": [17.86163, 18.07599], "nice": false, "zero": false}, "title": "Frequency [MHz]"},
   "y": {"field": "I", "type": "quantitative", "scale": {"domain": [1.22624, 1.25028], "nice": false, "zero": false}, "title": "Stokes I [relative]"},
   "detail": {"field": "s", "type": "nominal"}
  }
 },
 {
  "data": {"name": "kept"},
  "mark": {"type": "line", "color": "#ff7f0e", "strokeWidth": 2, "strokeJoin": "round", "strokeCap": "butt"},
  "encoding": {
   "x": {"field": "f", "type": "quantitative", "scale": {"domain": [17.86163, 18.07599], "nice": false, "zero": false}, "title": "Frequency [MHz]"},
   "y": {"field": "I", "type": "quantitative", "scale": {"domain": [1.22624, 1.25028], "nice": false, "zero": false}, "title": "Stokes I [relative]"},
   "detail": {"field": "s", "type": "nominal"}
  }
 },
 {
  "data": {"name": "exponent"},
  "mark": {"type": "text", "align": "left", "baseline": "alphabetic", "dy": -4, "fontSize": 14.5, "font": "DejaVu Sans", "color": "#111"},
  "encoding": {
   "x": {"field": "f", "type": "quantitative", "scale": {"domain": [17.86163, 18.07599], "nice": false, "zero": false}, "title": "Frequency [MHz]"},
   "y": {"field": "I", "type": "quantitative", "scale": {"domain": [1.22624, 1.25028], "nice": false, "zero": false}, "title": "Stokes I [relative]"},
   "text": {"field": "t"}
  }
 }
]
}
